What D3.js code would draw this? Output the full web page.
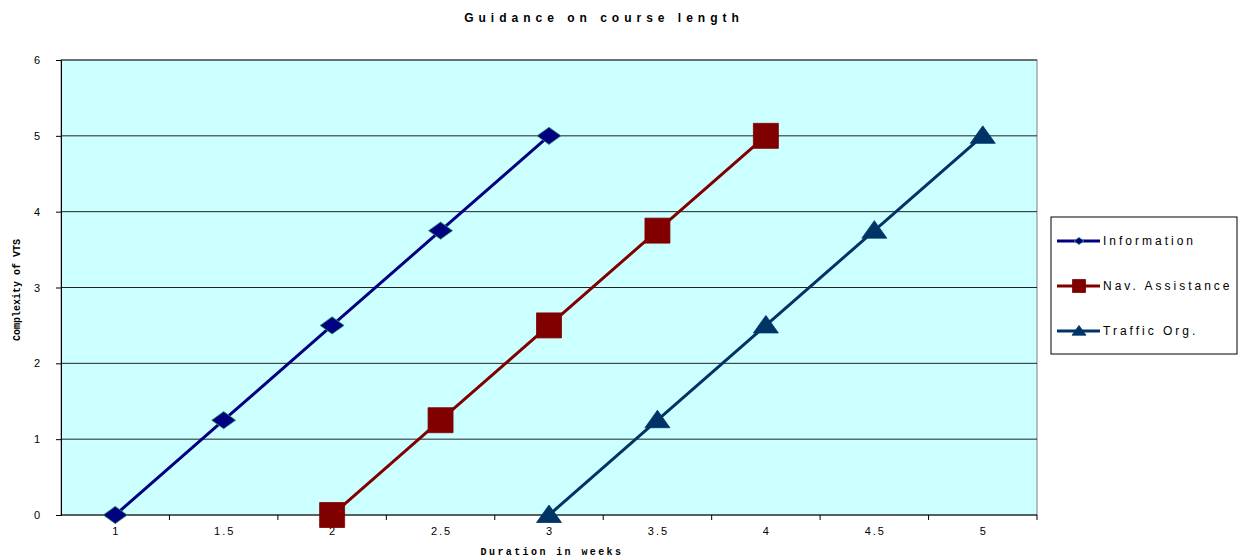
<!DOCTYPE html>
<html>
<head>
<meta charset="utf-8">
<style>
    body { margin: 0; background: #fff; }
    .tick text { font: 11px Arial, "Liberation Sans", sans-serif; letter-spacing: 2px; fill: #000; }
</style>
<script src="https://d3js.org/d3.v7.min.js"></script>
</head>
<body>
<script>
    // data
    const categories = ["1", "1.5", "2", "2.5", "3", "3.5", "4", "4.5", "5"];
    const information = [0, 1.25, 2.5, 3.75, 5, null, null, null, null];
    const navAssistance = [null, null, 0, 1.25, 2.5, 3.75, 5, null, null];
    const trafficOrg = [null, null, null, null, 0, 1.25, 2.5, 3.75, 5];
    const yTicks = [0, 1, 2, 3, 4, 5, 6];

    const series = [
        { name: "Information", values: information, color: "#000080", fill: "#000080", stroke: "#339966", shape: "diamond" },
        { name: "Nav. Assistance", values: navAssistance, color: "#800000", fill: "#800000", stroke: "#800000", shape: "square" },
        { name: "Traffic Org.", values: trafficOrg, color: "#003366", fill: "#003366", stroke: "#003366", shape: "triangle" }
    ];

    function drawChart() {
        const width = 1242, height = 559;
        const left = 61, right = 1037, top = 60, bottom = 515;

        const svg = d3.select("body").append("svg")
            .attr("width", width)
            .attr("height", height);

        const x = d3.scaleBand().domain(categories).range([left, right]);
        const y = d3.scaleLinear().domain([0, 6]).range([bottom, top]);

        // plot background
        svg.append("rect")
            .attr("x", left).attr("y", top)
            .attr("width", right - left).attr("height", bottom - top)
            .attr("fill", "#ccffff")
            .attr("stroke", "#808080");

        // gridlines
        svg.append("g").selectAll("line")
            .data(yTicks.slice(1))
            .enter().append("line")
            .attr("x1", left).attr("x2", right)
            .attr("y1", d => y(d)).attr("y2", d => y(d))
            .attr("stroke", "#222")
            .attr("stroke-width", 1);

        // y axis
        const yAxis = svg.append("g")
            .attr("transform", "translate(" + left + ",0)")
            .call(d3.axisLeft(y).tickValues(yTicks).tickFormat(d3.format("d")).tickSize(5).tickPadding(14));
        yAxis.select(".domain").attr("stroke", "#000");

        // x axis: labels at category centers, ticks at category boundaries
        const xAxis = svg.append("g")
            .attr("transform", "translate(0," + bottom + ")")
            .call(d3.axisBottom(x).tickSize(0).tickPadding(12));
        xAxis.select(".domain").attr("stroke", "#000").attr("d", "M" + left + ",0H" + right);
        xAxis.selectAll(".tick text").attr("dx", "1px");
        svg.append("g").selectAll("line")
            .data(categories)
            .enter().append("line")
            .attr("x1", (d, i) => left + x.step() * (i + 1))
            .attr("x2", (d, i) => left + x.step() * (i + 1))
            .attr("y1", bottom).attr("y2", bottom + 5)
            .attr("stroke", "#000");

        // lines
        const line = d3.line()
            .defined(d => d.v !== null)
            .x(d => x(d.c) + x.bandwidth() / 2)
            .y(d => y(d.v));

        function markerPath(shape, s) {
            if (shape === "diamond") return "M0," + (-s * 0.36) + "L" + (s * 0.5) + ",0L0," + (s * 0.36) + "L" + (-s * 0.5) + ",0Z";
            if (shape === "square") return "M" + (-s / 2) + "," + (-s / 2) + "h" + s + "v" + s + "h" + (-s) + "Z";
            return "M0," + (-s * 0.4) + "L" + (s * 0.5) + "," + (s * 0.3) + "L" + (-s * 0.5) + "," + (s * 0.3) + "Z";
        }
        const markerSize = { diamond: 24, square: 25, triangle: 25 };

        series.forEach(function (s) {
            const pts = s.values.map((v, i) => ({ c: categories[i], v: v }));
            svg.append("path")
                .datum(pts)
                .attr("d", line)
                .attr("fill", "none")
                .attr("stroke", s.color)
                .attr("stroke-width", 3);
            svg.append("g").selectAll("path")
                .data(pts.filter(d => d.v !== null))
                .enter().append("path")
                .attr("transform", d => "translate(" + (x(d.c) + x.bandwidth() / 2) + "," + y(d.v) + ")")
                .attr("d", markerPath(s.shape, markerSize[s.shape]))
                .attr("fill", s.fill)
                .attr("stroke", s.stroke)
                .attr("stroke-width", 0.8);
        });

        // title
        svg.append("text")
            .attr("x", 604).attr("y", 22)
            .attr("text-anchor", "middle")
            .style("font", "bold 12px Arial, 'Liberation Sans', sans-serif")
            .style("letter-spacing", "5px")
            .text("Guidance on course length");

        // axis titles
        svg.append("text")
            .attr("transform", "translate(20,290) rotate(-90)")
            .attr("text-anchor", "middle")
            .style("font", "bold 10px 'Liberation Mono', 'DejaVu Sans Mono', monospace")
            .text("Complexity of VTS");

        svg.append("text")
            .attr("x", 552).attr("y", 555)
            .attr("text-anchor", "middle")
            .style("font", "bold 10px 'Liberation Mono', 'DejaVu Sans Mono', monospace")
            .style("letter-spacing", "2.4px")
            .text("Duration in weeks");

        // legend
        const legend = svg.append("g");
        legend.append("rect")
            .attr("x", 1051).attr("y", 217)
            .attr("width", 186).attr("height", 137)
            .attr("fill", "#fff").attr("stroke", "#000");
        const legendSize = { diamond: 10, square: 13, triangle: 14 };
        series.forEach(function (s, i) {
            const ly = 241 + i * 45;
            legend.append("line")
                .attr("x1", 1057).attr("x2", 1100)
                .attr("y1", ly).attr("y2", ly)
                .attr("stroke", s.color).attr("stroke-width", 3);
            legend.append("path")
                .attr("transform", "translate(1079," + ly + ")")
                .attr("d", markerPath(s.shape, legendSize[s.shape]))
                .attr("fill", s.fill).attr("stroke", s.stroke).attr("stroke-width", 0.8);
            legend.append("text")
                .attr("x", 1103).attr("y", ly + 4)
                .style("font", "12px Arial, 'Liberation Sans', sans-serif")
                .style("letter-spacing", "3px")
                .text(s.name);
        });
    }

    drawChart();
</script>
</body>
</html>
